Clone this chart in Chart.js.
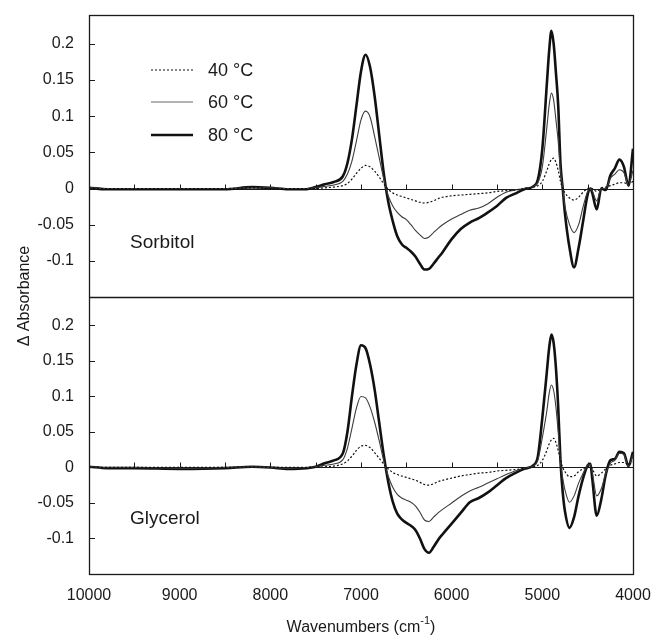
<!DOCTYPE html>
<html>
<head>
<meta charset="utf-8">
<script src="https://cdn.jsdelivr.net/npm/chart.js@4.4.1/dist/chart.umd.min.js"></script>
<style>
  body { margin: 0; background: #fff; }
  #wrap { width: 654px; height: 635px; }
</style>
</head>
<body>
<div id="wrap"><canvas id="chart-area" width="654" height="635"></canvas></div>
<script>
// wavenumbers (cm-1), shared by all curves
const wavenumbers = [10000, 9800, 9500, 9000, 8500, 8200, 8000, 7800, 7600, 7500,
  7400, 7300, 7200, 7150, 7100, 7050, 7000, 6950, 6900, 6850,
  6800, 6750, 6700, 6650, 6600, 6550, 6500, 6450, 6400, 6350,
  6300, 6250, 6200, 6150, 6100, 6000, 5900, 5800, 5700, 5600,
  5500, 5400, 5300, 5200, 5100, 5050, 5000, 4950, 4925, 4900,
  4875, 4850, 4825, 4800, 4775, 4750, 4700, 4650, 4600, 4550,
  4500, 4470, 4450, 4400, 4350, 4300, 4250, 4200, 4150, 4100,
  4050, 4000];

// Sorbitol panel
const sorbitol40 = [0, 0, 0, 0, 0, 0.001, 0, 0, 0, 0,
  0.001, 0.002, 0.004, 0.007, 0.013, 0.021, 0.028, 0.032, 0.03, 0.024,
  0.016, 0.007, -0.001, -0.006, -0.009, -0.011, -0.013, -0.015, -0.017, -0.019,
  -0.02, -0.019, -0.017, -0.014, -0.012, -0.01, -0.009, -0.008, -0.007, -0.006,
  -0.004, -0.003, -0.002, 0, 0.002, 0.004, 0.01, 0.025, 0.034, 0.04,
  0.042, 0.036, 0.025, 0.01, 0, -0.006, -0.013, -0.016, -0.012, -0.005,
  0, 0.001, 0, -0.004, 0.001, 0.002, 0.004, 0.006, 0.008, 0.008,
  0.006, 0.01];
const sorbitol60 = [0.001, 0, 0, 0, 0, 0.001, 0.001, 0, 0, 0.001,
  0.003, 0.005, 0.01, 0.02, 0.038, 0.066, 0.095, 0.107, 0.099, 0.072,
  0.043, 0.014, -0.01, -0.024, -0.033, -0.039, -0.043, -0.05, -0.058, -0.064,
  -0.069, -0.067, -0.061, -0.055, -0.05, -0.042, -0.036, -0.03, -0.027, -0.021,
  -0.012, -0.005, -0.002, 0, 0.003, 0.008, 0.03, 0.085, 0.115, 0.132,
  0.122, 0.095, 0.065, 0.025, 0, -0.025, -0.05, -0.061, -0.05, -0.025,
  -0.004, 0, -0.003, -0.017, 0, 0, 0.014, 0.02, 0.026, 0.022,
  0.005, 0.025];
const sorbitol80 = [0.001, -0.001, -0.001, -0.001, -0.001, 0.002, 0.001, -0.001, -0.001, 0.002,
  0.006, 0.009, 0.017, 0.035, 0.068, 0.115, 0.162, 0.185, 0.168, 0.128,
  0.075, 0.022, -0.018, -0.045, -0.066, -0.077, -0.082, -0.087, -0.094, -0.104,
  -0.112, -0.111, -0.104, -0.096, -0.088, -0.07, -0.056, -0.047, -0.041, -0.033,
  -0.024, -0.013, -0.007, -0.001, 0.003, 0.012, 0.055, 0.145, 0.19, 0.218,
  0.2, 0.16, 0.115, 0.035, 0, -0.035, -0.082, -0.109, -0.082, -0.045,
  -0.008, 0, -0.006, -0.029, 0, -0.002, 0.018, 0.028, 0.04, 0.03,
  0.004, 0.055];

// Glycerol panel
const glycerol40 = [0, 0, 0, 0, 0, 0.001, 0, 0, 0, 0,
  0.001, 0.002, 0.005, 0.009, 0.016, 0.024, 0.03, 0.031, 0.028, 0.021,
  0.013, 0.005, -0.002, -0.007, -0.01, -0.012, -0.014, -0.016, -0.018, -0.021,
  -0.024, -0.025, -0.023, -0.02, -0.018, -0.015, -0.012, -0.01, -0.008, -0.007,
  -0.005, -0.004, -0.003, -0.001, 0.001, 0.003, 0.01, 0.024, 0.033, 0.039,
  0.041, 0.035, 0.024, 0.01, 0, -0.006, -0.013, -0.012, -0.006, -0.002,
  0.001, 0.001, -0.002, -0.012, -0.008, -0.002, 0.003, 0.005, 0.007, 0.007,
  0.004, 0.008];
const glycerol60 = [0.001, 0, 0, -0.001, 0, 0.001, 0, -0.001, 0, 0.001,
  0.003, 0.005, 0.011, 0.027, 0.055, 0.084, 0.1, 0.098, 0.085, 0.064,
  0.038, 0.01, -0.012, -0.028, -0.038, -0.043, -0.046, -0.049, -0.054, -0.063,
  -0.074, -0.076, -0.07, -0.064, -0.059, -0.05, -0.041, -0.033, -0.028, -0.022,
  -0.016, -0.01, -0.005, -0.001, 0.002, 0.01, 0.042, 0.08, 0.104, 0.116,
  0.108, 0.085, 0.05, 0.008, -0.015, -0.032, -0.049, -0.04, -0.022, -0.008,
  0.003, 0.004, -0.006, -0.04, -0.03, -0.008, 0.006, 0.01, 0.02, 0.018,
  0.002, 0.018];
const glycerol80 = [0.001, -0.001, -0.001, -0.002, -0.001, 0.001, 0, -0.002, -0.001, 0.001,
  0.006, 0.01, 0.02, 0.05, 0.1, 0.145, 0.172, 0.168, 0.145, 0.11,
  0.064, 0.018, -0.02, -0.048, -0.065, -0.073, -0.078, -0.082, -0.088, -0.1,
  -0.115, -0.12, -0.112, -0.102, -0.094, -0.079, -0.064, -0.049, -0.043, -0.035,
  -0.025, -0.015, -0.008, -0.002, 0.003, 0.015, 0.07, 0.135, 0.168, 0.187,
  0.175, 0.14, 0.085, 0.01, -0.035, -0.062, -0.085, -0.07, -0.04, -0.015,
  0.003, 0.005, -0.015, -0.068, -0.045, -0.01, 0.01, 0.012, 0.022, 0.02,
  0.002, 0.022];

const xTicks = [10000, 9000, 8000, 7000, 6000, 5000, 4000];
const yTicks = [-0.1, -0.05, 0, 0.05, 0.1, 0.15, 0.2];
const seriesLabels = ['40 °C', '60 °C', '80 °C'];
const panelNames = ['Sorbitol', 'Glycerol'];

const FONT = '"Liberation Sans", Arial, sans-serif';
const INK = '#1a1a1a';

function pts(values) {
  return values.map((v, i) => ({x: wavenumbers[i], y: v}));
}

const styles = [
  {borderColor: '#111', borderWidth: 1.2, borderDash: [2, 2]},
  {borderColor: '#3c3c3c', borderWidth: 1.1, borderDash: []},
  {borderColor: '#111', borderWidth: 2.6, borderDash: []}
];

function mk(label, values, axis, st) {
  return Object.assign({
    label: label,
    data: pts(values),
    yAxisID: axis,
    pointRadius: 0,
    fill: false,
    cubicInterpolationMode: 'monotone'
  }, st);
}

let datasets = [
  mk(seriesLabels[0], sorbitol40, 'yTop', styles[0]),
  mk(seriesLabels[1], sorbitol60, 'yTop', styles[1]),
  mk(seriesLabels[2], sorbitol80, 'yTop', styles[2]),
  mk(seriesLabels[0], glycerol40, 'yBot', styles[0]),
  mk(seriesLabels[1], glycerol60, 'yBot', styles[1]),
  mk(seriesLabels[2], glycerol80, 'yBot', styles[2])
];

// no extra label overhang padding, the layout padding decides the plot area
function noPad(scale) {
  scale.paddingTop = 0;
  scale.paddingBottom = 0;
  scale.paddingLeft = 0;
  scale.paddingRight = 0;
}

function yAxis(weight, stackWeight) {
  return {
    type: 'linear',
    position: 'left',
    stack: 'panels',
    stackWeight: stackWeight,
    weight: weight,
    min: -0.15,
    max: 0.24,
    grid: {display: false},
    border: {display: false},
    afterBuildTicks: function(scale) { scale.ticks = yTicks.map(v => ({value: v})); },
    afterFit: function(scale) { scale.width = 89; noPad(scale); },
    ticks: {
      color: INK,
      padding: 7,
      font: {family: FONT, size: 16},
      callback: function(v) { return String(v); }
    }
  };
}

// frame, zero lines, inner ticks and texts
const decor = {
  id: 'decor',
  beforeDatasetsDraw: function(chart) {
    const ctx = chart.ctx;
    const xs = chart.scales.x;
    ctx.save();
    ctx.strokeStyle = INK;
    ctx.lineWidth = 1;
    ['yTop', 'yBot'].forEach(function(id) {
      const ys = chart.scales[id];
      const y0 = Math.round(ys.getPixelForValue(0)) + 0.5;
      ctx.beginPath();
      ctx.moveTo(xs.left, y0);
      ctx.lineTo(xs.right, y0);
      for (let w = 9500; w > 4000; w -= 500) {
        const px = Math.round(xs.getPixelForValue(w)) + 0.5;
        ctx.moveTo(px, y0);
        ctx.lineTo(px, y0 - 5);
      }
      yTicks.forEach(function(v) {
        const py = Math.round(ys.getPixelForValue(v)) + 0.5;
        ctx.moveTo(xs.left, py);
        ctx.lineTo(xs.left + 6, py);
      });
      ctx.stroke();
    });
    ctx.restore();
  },
  afterDraw: function(chart) {
    const ctx = chart.ctx;
    const a = chart.chartArea;
    const xs = chart.scales.x;
    const top = chart.scales.yTop;
    ctx.save();
    ctx.strokeStyle = INK;
    ctx.lineWidth = 1.3;
    ctx.strokeRect(Math.round(a.left) + 0.5, Math.round(a.top) + 0.5,
      Math.round(a.right - a.left), Math.round(a.bottom - a.top));
    const yd = Math.round(top.bottom) + 0.5;
    ctx.beginPath();
    ctx.moveTo(a.left, yd);
    ctx.lineTo(a.right, yd);
    ctx.stroke();

    // legend
    const lx = a.left + 62;
    [70, 102, 135].forEach(function(ly, i) {
      const st = styles[i];
      ctx.beginPath();
      ctx.strokeStyle = i === 1 ? '#666' : st.borderColor;
      ctx.lineWidth = st.borderWidth;
      ctx.setLineDash(st.borderDash);
      ctx.moveTo(lx, ly);
      ctx.lineTo(lx + 42, ly);
      ctx.stroke();
      ctx.setLineDash([]);
      ctx.fillStyle = INK;
      ctx.font = '18px ' + FONT;
      ctx.textBaseline = 'middle';
      ctx.textAlign = 'left';
      ctx.fillText(seriesLabels[i], lx + 57, ly + 1);
    });

    // panel names
    ctx.font = '19px ' + FONT;
    ctx.fillText(panelNames[0], a.left + 41, 243);
    ctx.fillText(panelNames[1], a.left + 41, 519);

    // y title
    ctx.save();
    ctx.translate(25, 296);
    ctx.rotate(-Math.PI / 2);
    ctx.textAlign = 'center';
    ctx.font = '16px ' + FONT;
    ctx.fillText('Δ Absorbance', 0, 0);
    ctx.restore();

    // x title with superscript
    const main = 'Wavenumbers (cm';
    const sup = '-1';
    const tail = ')';
    ctx.font = '16px ' + FONT;
    const w1 = ctx.measureText(main).width;
    const w3 = ctx.measureText(tail).width;
    ctx.font = '11px ' + FONT;
    const w2 = ctx.measureText(sup).width;
    let sx = (xs.left + xs.right) / 2 - (w1 + w2 + w3) / 2;
    const by = 628;
    ctx.textAlign = 'left';
    ctx.textBaseline = 'middle';
    ctx.font = '16px ' + FONT;
    ctx.fillText(main, sx, by);
    ctx.font = '11px ' + FONT;
    ctx.fillText(sup, sx + w1, by - 7);
    ctx.font = '16px ' + FONT;
    ctx.fillText(tail, sx + w1 + w2, by);
    ctx.restore();
  }
};

const config = {
  type: 'line',
  data: {datasets: datasets},
  options: {
    responsive: false,
    animation: false,
    layout: {padding: {top: 15, right: 21, left: 0, bottom: 0}},
    plugins: {legend: {display: false}, tooltip: {enabled: false}},
    scales: {
      x: {
        type: 'linear',
        reverse: true,
        min: 4000,
        max: 10000,
        grid: {display: false, drawTicks: false},
        border: {display: false},
        afterBuildTicks: function(scale) { scale.ticks = xTicks.map(v => ({value: v})); },
        afterFit: function(scale) { scale.height = 61; noPad(scale); },
        ticks: {
          color: INK,
          padding: 12,
          maxRotation: 0,
          font: {family: FONT, size: 16},
          callback: function(v) { return String(v); }
        }
      },
      yTop: yAxis(1, 282),
      yBot: yAxis(0, 277)
    }
  },
  plugins: [decor]
};

window.myChart = new Chart(document.getElementById('chart-area').getContext('2d'), config);
</script>
</body>
</html>
